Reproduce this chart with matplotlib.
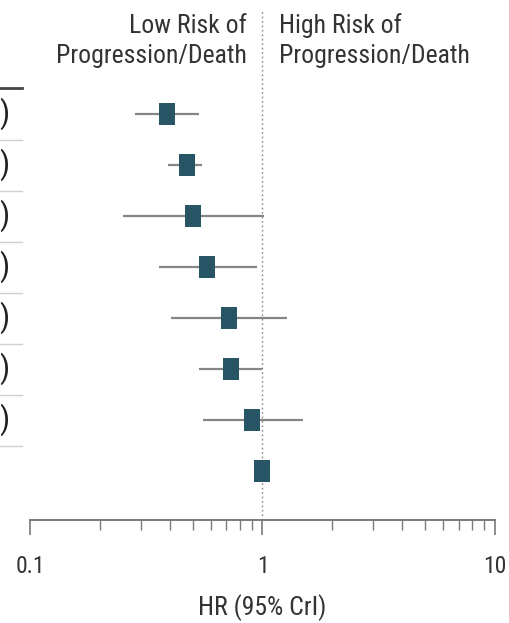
import matplotlib
matplotlib.use("Agg")
import matplotlib.pyplot as plt
import matplotlib.transforms as mtransforms
from matplotlib import font_manager as fm

# Data (rows top to bottom)
hr = [0.39, 0.475, 0.50, 0.58, 0.72, 0.735, 0.905, 1.0]
lo = [0.284, 0.393, 0.252, 0.36, 0.405, 0.535, 0.557, None]
hi = [0.535, 0.551, 1.01, 0.95, 1.28, 1.0, 1.50, None]
row_labels = [")", ")", ")", ")", ")", ")", ")", ""]
xticks = [0.1, 1, 10]
xticklabels = ["0.1", "1", "10"]
header_left = ["Low Risk of", "Progression/Death"]
header_right = ["High Risk of", "Progression/Death"]
xlabel = "HR (95% CrI)"

# pick a condensed sans font if one is installed
cond_path = None
best = 99
for f in fm.fontManager.ttflist:
    name = f.name.lower()
    fname = f.fname.lower()
    if f.style != 'normal' or f.weight not in (400, 'normal', 'regular'):
        continue
    score = None
    if 'liberation sans narrow' in name or 'liberationsansnarrow-regular' in fname:
        score = 0
    elif 'roboto condensed' in name or 'robotocondensed-regular' in fname:
        score = 1
    elif 'condensed' in fname and 'dejavusans' in fname and 'bold' not in fname and 'oblique' not in fname and 'mono' not in fname:
        score = 2
    elif f.stretch in ('condensed', 'semi-condensed') and 'sans' in name and 'mono' not in name:
        score = 3
    if score is not None and score < best:
        best = score
        cond_path = f.fname

if cond_path:
    FP = lambda size: fm.FontProperties(fname=cond_path, size=size)
    scale = 1.0
else:
    FP = lambda size: fm.FontProperties(family='DejaVu Sans', size=size)
    scale = 0.72

W, H = 510, 623
fig = plt.figure(figsize=(W / 100, H / 100), dpi=100)

def fx(px):
    return px / W

def fy(py):
    return 1 - py / H

ax_left, ax_right, ax_top, ax_bot = 30, 495, 88, 520
ax = fig.add_axes([fx(ax_left), fy(ax_bot), fx(ax_right - ax_left), (ax_bot - ax_top) / H])

n = len(hr)
ypos = list(range(n))
sq_color = '#285565'
ci_color = '#858585'

for i in range(n):
    if lo[i] is not None:
        ax.plot([lo[i], hi[i]], [ypos[i], ypos[i]], color=ci_color, lw=1.6,
                solid_capstyle='butt', zorder=2)

rect = [(-0.35, -0.5), (0.35, -0.5), (0.35, 0.5), (-0.35, 0.5), (-0.35, -0.5)]
ax.plot(hr, ypos, linestyle='none', marker=rect, markersize=16,
        color=sq_color, markeredgewidth=0, zorder=3)

ax.set_xscale('log')
ax.set_xlim(0.1, 10)
ax.set_ylim(n - 1 + 0.96, -0.51)

ax.axvline(1, ymin=0, ymax=(ax_bot - 10) / (ax_bot - ax_top), color='#888888',
           lw=1.0, ls=(0, (1.2, 2.0)), clip_on=False, zorder=1)

for s in ['top', 'right', 'left']:
    ax.spines[s].set_visible(False)
ax.spines['bottom'].set_color('#7a7a7a')
ax.spines['bottom'].set_linewidth(1.4)
ax.set_yticks([])
ax.set_xticks(xticks)
ax.set_xticklabels(xticklabels)
ax.tick_params(axis='x', which='major', direction='out', length=11, width=1.2,
               color='#7a7a7a', labelcolor='#333333', pad=14)
ax.tick_params(axis='x', which='minor', direction='out', length=7, width=1.0,
               color='#7a7a7a')
for lab in ax.get_xticklabels():
    lab.set_fontproperties(FP(17 * scale))
ax.set_xlabel(xlabel, fontproperties=FP(18.5 * scale), color='#333333', labelpad=12)

tc = '#333333'
hs = 18.5 * scale
fig.text(fx(247), fy(33), header_left[0], ha='right', va='baseline', fontproperties=FP(hs), color=tc)
fig.text(fx(247), fy(63), header_left[1], ha='right', va='baseline', fontproperties=FP(hs), color=tc)
fig.text(fx(279), fy(33), header_right[0], ha='left', va='baseline', fontproperties=FP(hs), color=tc)
fig.text(fx(279), fy(63), header_right[1], ha='left', va='baseline', fontproperties=FP(hs), color=tc)

trans = mtransforms.blended_transform_factory(fig.transFigure, ax.transData)
for i in range(n):
    if row_labels[i]:
        fig.text(fx(9), ypos[i], row_labels[i], transform=trans, ha='right', va='center',
                 fontproperties=FP(23), color='#222222')
        ax.plot([0, fx(22)], [ypos[i] + 0.5, ypos[i] + 0.5], transform=trans,
                color='#d0d0d0', lw=1.0, clip_on=False)
ax.plot([0, fx(22)], [-0.51, -0.51], transform=trans, color='#444444', lw=2.0, clip_on=False)

fig.savefig('out.png', dpi=100)
